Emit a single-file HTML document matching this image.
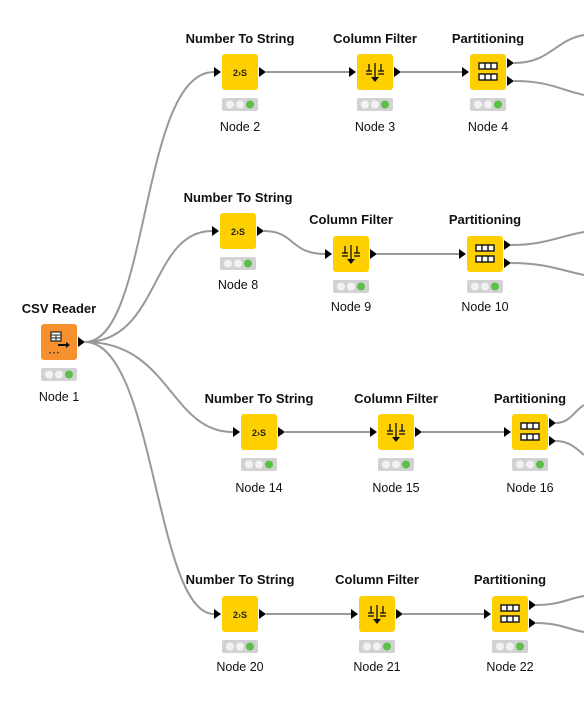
<!DOCTYPE html>
<html><head><style>
html,body{margin:0;padding:0;background:#fff;}
svg{display:block;}
.t{font-family:"Liberation Sans",sans-serif;font-weight:bold;font-size:13px;fill:#111;text-anchor:middle;}
.l{font-family:"Liberation Sans",sans-serif;font-size:12.5px;fill:#111;text-anchor:middle;}
.e{fill:none;stroke:#999;stroke-width:2;}
</style></head><body>
<svg width="584" height="701" viewBox="0 0 584 701" xmlns="http://www.w3.org/2000/svg">
<defs>
<g id="st">
<rect x="0" y="44" width="36" height="13" rx="2" fill="#d2d2d2"/>
<circle cx="8" cy="50.5" r="4" fill="#f2f2f2"/><circle cx="18" cy="50.5" r="4" fill="#f2f2f2"/><circle cx="28" cy="50.5" r="4" fill="#5cbf4a"/>
</g>
<polygon id="in" points="-8,13 -1,18 -8,23" fill="#000"/>
<polygon id="out" points="37,13 44,18 37,23" fill="#000"/>
<g id="ns">
<rect width="36" height="36" rx="3" fill="#ffd000"/>
<use href="#in"/><use href="#out"/><use href="#st"/>
<text x="18" y="22" font-family="Liberation Sans,sans-serif" font-weight="bold" font-size="9" text-anchor="middle" fill="#222">2›S</text>
</g>
<g id="cf">
<rect width="36" height="36" rx="3" fill="#ffd000"/>
<use href="#in"/><use href="#out"/><use href="#st"/>
<g stroke="#111" stroke-width="1.3" fill="none">
<line x1="18" y1="9" x2="18" y2="24"/><line x1="12" y1="10" x2="12" y2="17"/><line x1="24" y1="10" x2="24" y2="17"/>
<line x1="9" y1="17" x2="15" y2="17"/><line x1="21" y1="17" x2="27" y2="17"/>
<line x1="9" y1="20" x2="15" y2="20"/><line x1="21" y1="20" x2="27" y2="20"/>
</g>
<polygon points="14,23 22,23 18,28" fill="#111"/>
</g>
<g id="pa">
<rect width="36" height="36" rx="3" fill="#ffd000"/>
<use href="#in"/><use href="#st"/>
<polygon points="37,4 44,9 37,14" fill="#000"/>
<polygon points="37,22 44,27 37,32" fill="#000"/>
<g stroke="#111" stroke-width="1.4" fill="#fff">
<rect x="9" y="9" width="18" height="6"/><rect x="9" y="20" width="18" height="6"/>
<line x1="15" y1="9" x2="15" y2="15"/><line x1="21" y1="9" x2="21" y2="15"/>
<line x1="15" y1="20" x2="15" y2="26"/><line x1="21" y1="20" x2="21" y2="26"/>
</g>
</g>
</defs>

<path class="e" d="M85,342 C150,342 140,72 214,72"/>
<path class="e" d="M85,342 C160,342 150,231 212,231"/>
<path class="e" d="M85,342 C170,342 170,432 233,432"/>
<path class="e" d="M85,342 C155,342 155,614 214,614"/>
<path class="e" d="M266,72 L349,72"/><path class="e" d="M401,72 L462,72"/>
<path class="e" d="M264,231 C295,231 290,254 325,254"/><path class="e" d="M377,254 L459,254"/>
<path class="e" d="M285,432 L370,432"/><path class="e" d="M422,432 L504,432"/>
<path class="e" d="M266,614 L351,614"/><path class="e" d="M403,614 L484,614"/>
<path class="e" d="M514,63 C550,63 555,40 584,35"/><path class="e" d="M514,81 C550,81 560,90 584,95"/>
<path class="e" d="M511,245 C545,245 560,236 584,232"/><path class="e" d="M511,263 C545,263 560,270 584,275"/>
<path class="e" d="M556,423 C570,423 575,410 584,405"/><path class="e" d="M556,441 C570,441 578,450 584,455"/>
<path class="e" d="M536,605 C560,605 570,598 584,596"/><path class="e" d="M536,623 C560,623 570,630 584,632"/>

<g transform="translate(41,324)">
<rect width="36" height="36" rx="3" fill="#f7912f"/>
<use href="#out"/>
<use href="#st"/>
<rect x="10" y="8" width="10" height="9" fill="#fff" stroke="#222" stroke-width="1.2"/>
<line x1="10" y1="11" x2="20" y2="11" stroke="#222"/><line x1="10" y1="14" x2="20" y2="14" stroke="#222"/><line x1="15" y1="11" x2="15" y2="17" stroke="#222"/>
<path d="M17,21 L26,21" stroke="#111" stroke-width="2"/><polygon points="25,18 29,21 25,24" fill="#111"/>
<text x="13" y="31" font-size="6" fill="#333" text-anchor="middle" font-family="Liberation Sans,sans-serif">• • •</text>
</g>
<text class="t" x="59" y="313">CSV Reader</text><text class="l" x="59" y="401">Node 1</text>

<use href="#ns" transform="translate(222,54)"/><use href="#cf" transform="translate(357,54)"/><use href="#pa" transform="translate(470,54)"/>
<text class="t" x="240" y="43">Number To String</text><text class="t" x="375" y="43">Column Filter</text><text class="t" x="488" y="43">Partitioning</text>
<text class="l" x="240" y="131">Node 2</text><text class="l" x="375" y="131">Node 3</text><text class="l" x="488" y="131">Node 4</text>

<use href="#ns" transform="translate(220,213)"/><use href="#cf" transform="translate(333,236)"/><use href="#pa" transform="translate(467,236)"/>
<text class="t" x="238" y="202">Number To String</text><text class="t" x="351" y="224">Column Filter</text><text class="t" x="485" y="224">Partitioning</text>
<text class="l" x="238" y="289">Node 8</text><text class="l" x="351" y="311">Node 9</text><text class="l" x="485" y="311">Node 10</text>

<use href="#ns" transform="translate(241,414)"/><use href="#cf" transform="translate(378,414)"/><use href="#pa" transform="translate(512,414)"/>
<text class="t" x="259" y="403">Number To String</text><text class="t" x="396" y="403">Column Filter</text><text class="t" x="530" y="403">Partitioning</text>
<text class="l" x="259" y="492">Node 14</text><text class="l" x="396" y="492">Node 15</text><text class="l" x="530" y="492">Node 16</text>

<use href="#ns" transform="translate(222,596)"/><use href="#cf" transform="translate(359,596)"/><use href="#pa" transform="translate(492,596)"/>
<text class="t" x="240" y="584">Number To String</text><text class="t" x="377" y="584">Column Filter</text><text class="t" x="510" y="584">Partitioning</text>
<text class="l" x="240" y="671">Node 20</text><text class="l" x="377" y="671">Node 21</text><text class="l" x="510" y="671">Node 22</text>
</svg>
</body></html>
